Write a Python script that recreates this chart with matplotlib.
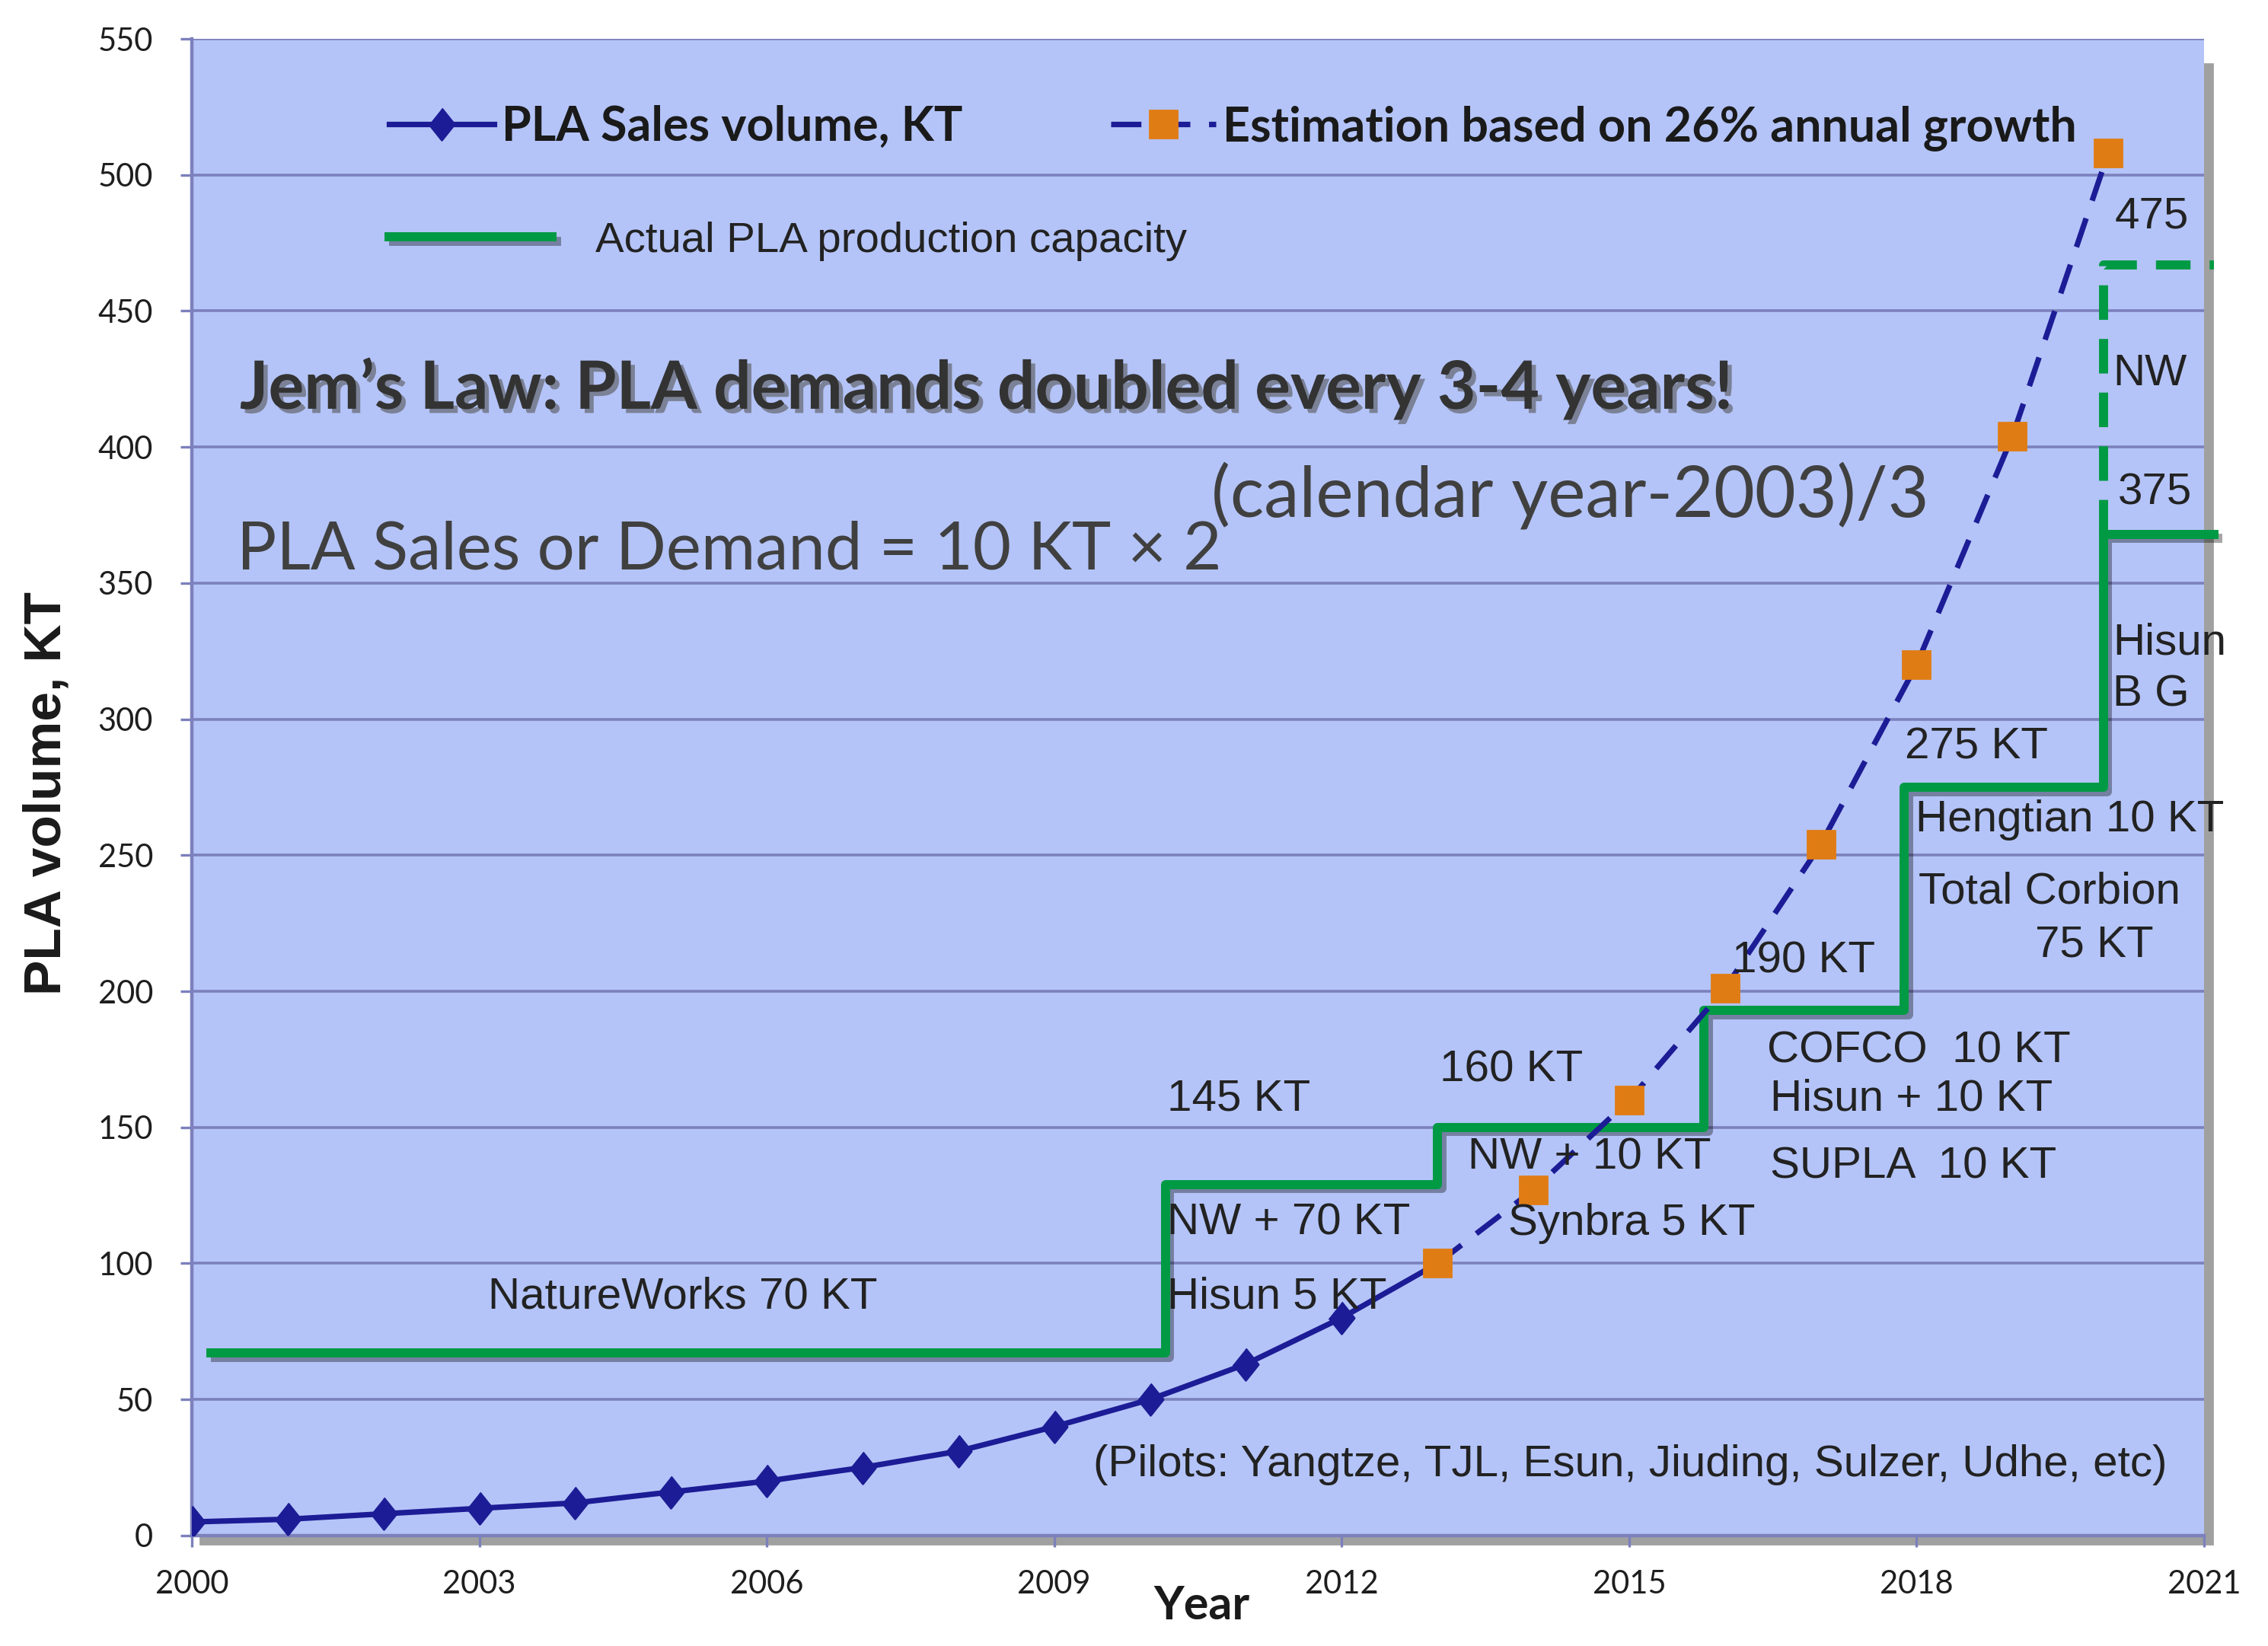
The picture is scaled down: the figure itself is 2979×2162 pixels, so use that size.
import matplotlib
matplotlib.use("Agg")
import matplotlib.pyplot as plt
import matplotlib.patheffects as pe
from matplotlib.patches import Rectangle

# PLA sales volume (KT), actual
sales_years = [2000, 2001, 2002, 2003, 2004, 2005, 2006, 2007, 2008, 2009, 2010, 2011, 2012, 2013]
sales_kt = [5, 6, 8, 10, 12, 16, 20, 25, 31, 40, 50, 63, 80, 100]

# estimation based on 26% annual growth
est_years = [2013, 2014, 2015, 2016, 2017, 2018, 2019, 2020]
est_kt = [100, 127, 160, 201, 254, 320, 404, 508]

# actual production capacity (step line)
cap_years = [2000.2, 2010.16, 2013.0, 2015.78, 2017.87, 2019.95, 2021.1]
cap_kt = [67, 129, 150, 193, 275, 368, 368]

# planned capacity (dashed)
plan_years = [2019.95, 2019.95, 2021.1]
plan_kt = [368, 467, 467]

xticks = [2000, 2003, 2006, 2009, 2012, 2015, 2018, 2021]
yticks = [0, 50, 100, 150, 200, 250, 300, 350, 400, 450, 500, 550]

# text notes: (x, y, text)
notes = [
    (2003.09, 87.7, "NatureWorks 70 KT"),
    (2010.18, 160.5, "145 KT"),
    (2010.18, 114.8, "NW + 70 KT"),
    (2010.18, 87.7, "Hisun 5 KT"),
    (2013.02, 171, "160 KT"),
    (2013.32, 139, "NW + 10 KT"),
    (2013.74, 114.8, "Synbra 5 KT"),
    (2016.07, 211, "190 KT"),
    (2016.44, 178, "COFCO  10 KT"),
    (2016.47, 160.5, "Hisun + 10 KT"),
    (2016.47, 135.5, "SUPLA  10 KT"),
    (2017.88, 289.6, "275 KT"),
    (2017.99, 263, "Hengtian 10 KT"),
    (2018.02, 236.4, "Total Corbion"),
    (2019.24, 217, "75 KT"),
    (2020.05, 328, "Hisun"),
    (2020.05, 309, "B G"),
    (2020.1, 383, "375"),
    (2020.05, 427, "NW"),
    (2020.07, 484.6, "475"),
    (2009.41, 26, "(Pilots: Yangtze, TJL, Esun, Jiuding, Sulzer, Udhe, etc)"),
]

bg = "#b4c4f8"
gridc = "#7c80bc"
navy = "#1c1c96"
green = "#009a44"
orange = "#e07c14"

fig = plt.figure(figsize=(14.895, 10.81), dpi=200)
rect = [0.0846, 0.0671, 0.8872, 0.9093]
ax = fig.add_axes(rect)

# drop shadow behind the plot area
fig.patches.append(Rectangle((rect[0] + 11 / 2979, rect[1] - 11 / 2162), rect[2], rect[3] - 0.01,
                             transform=fig.transFigure, color="#a0a0a0", zorder=-1))

ax.set_facecolor(bg)
ax.set_xlim(2000, 2021)
ax.set_ylim(0, 550)
ax.set_xticks(xticks)
ax.set_yticks(yticks)
ax.yaxis.grid(True, color=gridc, lw=1.3)
ax.set_axisbelow(True)
for s in ["top", "right"]:
    ax.spines[s].set_visible(False)
for s in ["left", "bottom"]:
    ax.spines[s].set_color(gridc)
    ax.spines[s].set_linewidth(1.6)
ax.tick_params(axis="both", length=5.4, width=1.2, color=gridc, labelsize=15, labelcolor="#1e1e1e")
ax.tick_params(axis="x", pad=11)
ax.tick_params(axis="y", pad=13)
for lab in ax.get_xticklabels() + ax.get_yticklabels():
    lab.set_family("Lato")

shadow = [pe.SimpleLineShadow(offset=(2, -2), alpha=0.35), pe.Normal()]

diamond = [(0, 1), (0.8, 0), (0, -1), (-0.8, 0)]
sales_line, = ax.plot(sales_years, sales_kt, color=navy, lw=2.6, marker=diamond, ms=15,
                      mfc=navy, mec=navy, markevery=slice(0, 13), zorder=4,
                      label="PLA Sales volume, KT")
est_line, = ax.plot(est_years, est_kt, color=navy, lw=2.6, ls=(0, (5.5, 3.4)), marker="s",
                    ms=13, mfc=orange, mec=orange, zorder=5,
                    label="Estimation based on 26% annual growth")
cap_line, = ax.step(cap_years, cap_kt, where="post", color=green, lw=4.3, zorder=3,
                    clip_on=False, path_effects=shadow, label="Actual PLA production capacity")
ax.plot(plan_years, plan_kt, color=green, lw=4.3, ls=(0, (3.8, 2.1)), zorder=3, clip_on=False)

leg1 = ax.legend(handles=[sales_line, est_line], loc="center left", bbox_to_anchor=(0.098, 0.9405),
                 ncol=2, frameon=False, borderpad=0, borderaxespad=0, handlelength=2.2,
                 handletextpad=0.15, columnspacing=3.1,
                 prop={"family": "Lato", "weight": "bold", "size": 22.6})
for t in leg1.get_texts():
    t.set_color("#1a1a1a")
ax.add_artist(leg1)
leg2 = ax.legend(handles=[cap_line], loc="center left", bbox_to_anchor=(0.098, 0.8647),
                 frameon=False, borderpad=0, borderaxespad=0, handlelength=3.8,
                 handletextpad=1.0, prop={"family": "Liberation Sans", "size": 20.3})
for t in leg2.get_texts():
    t.set_color("#222222")

ax.text(2000.5, 421.5, "Jem\u2019s Law: PLA demands doubled every 3-4 years!", fontsize=31.5,
        family="Lato", weight="bold", color="#333333", va="center", ha="left",
        path_effects=[pe.SimplePatchShadow(offset=(2, -2), shadow_rgbFace="#555555", alpha=0.6),
                      pe.Normal()])
formula = ax.text(2000.47, 362, "PLA Sales or Demand = 10 KT \u00d7 2", fontsize=31.3,
                  family="Lato", color="#404040", va="center", ha="left")
ax.annotate("(calendar year-2003)/3", xy=(1, 0.5), xycoords=formula, xytext=(-5, 26),
            textcoords="offset points", fontsize=33.5, family="Lato", color="#404040",
            va="center", ha="left")

for x, y, s in notes:
    ax.text(x, y, s, fontsize=21, family="Liberation Sans", color="#222222",
            va="center", ha="left", zorder=6)

ax.set_xlabel("Year", fontsize=22, family="Lato", weight="bold", color="#1a1a1a")
ax.xaxis.set_label_coords(0.502, -0.047)
ax.xaxis.label.set_va("center")
ax.set_ylabel("PLA volume, KT", fontsize=25, family="Liberation Sans", weight="bold",
              color="#1a1a1a")
ax.yaxis.set_label_coords(-0.072, 0.496)
ax.yaxis.label.set_va("center")

fig.savefig("out.png", dpi=200, facecolor="white")
